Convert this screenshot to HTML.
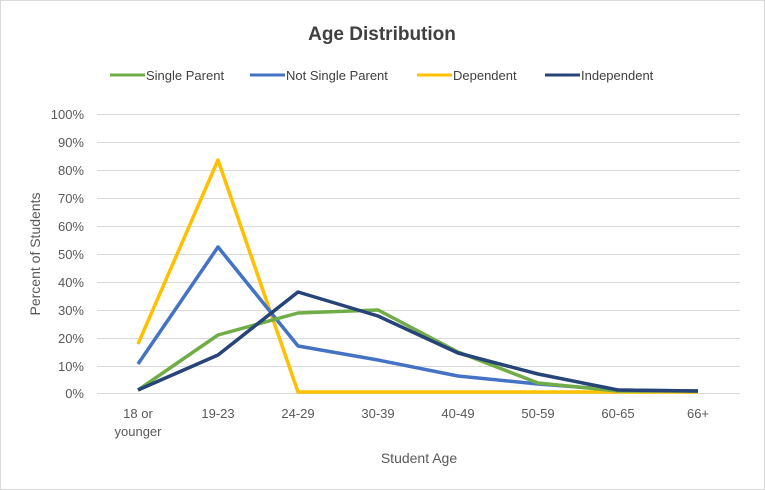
<!DOCTYPE html>
<html><head><style>body{margin:0;background:#fff}svg{display:block}text{font-family:"Liberation Sans",sans-serif}</style></head><body>
<svg width="765" height="490" xmlns="http://www.w3.org/2000/svg">
<rect x="0.5" y="0.5" width="764" height="489" fill="#fff" stroke="#d9d9d9"/>
<text x="382" y="40" text-anchor="middle" font-size="19" font-weight="bold" fill="#404040">Age Distribution</text>
<g font-size="13" fill="#404040">
<line x1="110" y1="75" x2="145" y2="75" stroke="#70ad47" stroke-width="3"/><text x="146" y="80">Single Parent</text>
<line x1="250" y1="75" x2="285" y2="75" stroke="#4472c4" stroke-width="3"/><text x="286" y="80">Not Single Parent</text>
<line x1="417" y1="75" x2="452" y2="75" stroke="#ffc000" stroke-width="3"/><text x="453" y="80">Dependent</text>
<line x1="545" y1="75" x2="580" y2="75" stroke="#264478" stroke-width="3"/><text x="581" y="80">Independent</text>
</g>
<g stroke="#d9d9d9" stroke-width="1">
<line x1="97" y1="114.5" x2="740" y2="114.5"/><line x1="97" y1="142.5" x2="740" y2="142.5"/><line x1="97" y1="170.5" x2="740" y2="170.5"/><line x1="97" y1="198.5" x2="740" y2="198.5"/><line x1="97" y1="226.5" x2="740" y2="226.5"/><line x1="97" y1="254.5" x2="740" y2="254.5"/><line x1="97" y1="282.5" x2="740" y2="282.5"/><line x1="97" y1="310.5" x2="740" y2="310.5"/><line x1="97" y1="338.5" x2="740" y2="338.5"/><line x1="97" y1="366.5" x2="740" y2="366.5"/><line x1="97" y1="393.5" x2="740" y2="393.5"/>
</g>
<g font-size="13" fill="#595959" text-anchor="end">
<text x="84" y="119">100%</text><text x="84" y="147">90%</text><text x="84" y="175">80%</text><text x="84" y="203">70%</text><text x="84" y="231">60%</text><text x="84" y="259">50%</text><text x="84" y="287">40%</text><text x="84" y="315">30%</text><text x="84" y="343">20%</text><text x="84" y="371">10%</text><text x="84" y="398">0%</text>
</g>
<g font-size="13" fill="#595959" text-anchor="middle">
<text x="138" y="418">18 or</text><text x="138" y="436">younger</text><text x="218" y="418">19-23</text><text x="298" y="418">24-29</text><text x="378" y="418">30-39</text><text x="458" y="418">40-49</text><text x="538" y="418">50-59</text><text x="618" y="418">60-65</text><text x="698" y="418">66+</text>
</g>
<text x="419" y="463" text-anchor="middle" font-size="14" fill="#595959">Student Age</text>
<text transform="translate(40,254) rotate(-90)" text-anchor="middle" font-size="14" fill="#595959">Percent of Students</text>
<g fill="none" stroke-width="3.5" stroke-linejoin="round">
<polyline stroke="#ffc000" points="138,344 218,160 298,392 378,392 458,392 538,392 618,392 698,392"/>
<polyline stroke="#4472c4" points="138,364 218,247 298,346 378,360 458,376 538,384 618,390 698,391"/>
<polyline stroke="#70ad47" points="138,390 218,335 298,313 378,310 458,352 538,383 618,391 698,391"/>
<polyline stroke="#264478" points="138,390 218,355 298,292 378,316 458,353 538,374 618,390 698,391"/>
</g>
</svg>
</body></html>
